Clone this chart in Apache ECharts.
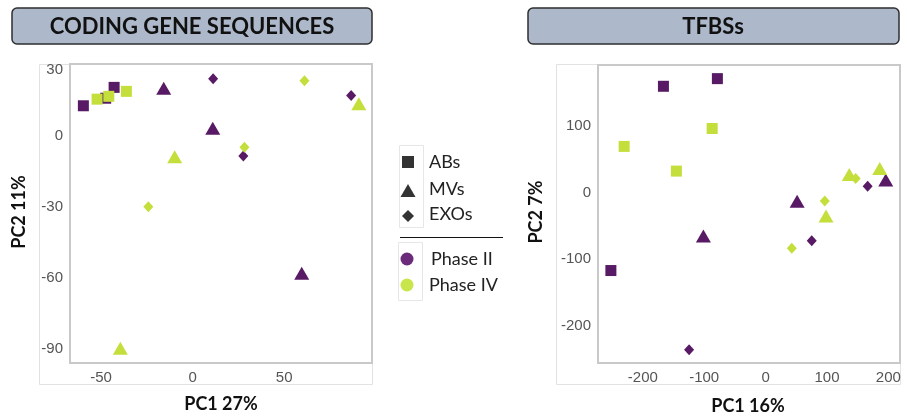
<!DOCTYPE html>
<html>
<head>
<meta charset="utf-8">
<script src="https://cdn.jsdelivr.net/npm/echarts@6/dist/echarts.min.js"></script>
<style>
  html, body { margin: 0; padding: 0; background: #fff; }
  #chart { width: 907px; height: 417px; }
</style>
</head>
<body>
<div id="chart"></div>
<script>
// PCA scores, coding gene sequences panel: [PC1, PC2]
const codingABsPhaseII  = [[-59.7, 12.8], [-47.5, 16.0], [-42.9, 20.6]];
const codingABsPhaseIV  = [[-52.2, 15.6], [-45.8, 16.8], [-36.2, 18.9]];
const codingMVsPhaseII  = [[-15.8, 20.2], [11.0, 3.3], [59.6, -58.2]];
const codingMVsPhaseIV  = [[-9.8, -8.8], [90.8, 13.7], [-39.5, -90.0]];
const codingEXOsPhaseII = [[11.2, 24.3], [86.6, 17.2], [27.7, -8.5]];
const codingEXOsPhaseIV = [[61.1, 23.4], [28.3, -4.8], [-24.2, -30.0]];

// PCA scores, TFBS panel: [PC1, PC2]
const tfbsABsPhaseII  = [[-166.4, 160.0], [-78.5, 171.5], [-252.0, -117.0]];
const tfbsABsPhaseIV  = [[-87.0, 96.5], [-230.4, 69.6], [-145.3, 32.5]];
const tfbsMVsPhaseII  = [[51.4, -13.0], [195.8, 19.0], [-101.3, -65.0]];
const tfbsMVsPhaseIV  = [[98.5, -35.0], [136.4, 27.5], [186.0, 36.5]];
const tfbsEXOsPhaseII = [[166.3, 9.6], [75.2, -72.4], [-124.6, -236.0]];
const tfbsEXOsPhaseIV = [[96.4, -12.5], [146.8, 21.5], [42.7, -83.5]];

// Tick labels
const codingXTicks = [-50, 0, 50];
const codingYTicks = [-90, -60, -30, 0, 30];
const tfbsXTicks = [-200, -100, 0, 100, 200];
const tfbsYTicks = [-200, -100, 0, 100];

const panelTitles = ['CODING GENE SEQUENCES', 'TFBSs'];
const axisTitles = { codingX: 'PC1 27%', codingY: 'PC2 11%', tfbsX: 'PC1 16%', tfbsY: 'PC2 7%' };
const typeLabels = ['ABs', 'MVs', 'EXOs'];
const phaseLabels = ['Phase II', 'Phase IV'];

const PURPLE = '#581a64';
const LIME = '#c4df3c';
const SHAPES = {
  ABs: { symbol: 'rect', size: 11 },
  MVs: { symbol: 'triangle', size: [15, 13] },
  EXOs: { symbol: 'diamond', size: [10, 11] }
};

const chart = echarts.init(document.getElementById('chart'), null, { renderer: 'canvas' });

// topValue: a tick sitting right at the frame edge gets nudged down so it stays inside
function valueAxis(idx, min, max, ticks, topValue) {
  return {
    type: 'value',
    gridIndex: idx,
    min: min,
    max: max,
    axisLine: { show: false },
    axisTick: { show: false },
    splitLine: { show: false },
    axisLabel: {
      customValues: ticks,
      color: '#555',
      fontFamily: 'Liberation Sans, Arial, sans-serif',
      fontSize: 15,
      margin: 7,
      formatter: function (v) {
        return (topValue !== undefined && v === topValue) ? '{edge|' + v + '}' : String(v);
      },
      rich: {
        edge: { color: '#555', fontFamily: 'Liberation Sans, Arial, sans-serif', fontSize: 15, padding: [9, 0, 0, 0] }
      }
    }
  };
}

function scatter(name, data, kind, color, idx) {
  return {
    type: 'scatter',
    name: name,
    xAxisIndex: idx,
    yAxisIndex: idx,
    data: data,
    symbol: SHAPES[kind].symbol,
    symbolSize: SHAPES[kind].size,
    itemStyle: { color: color, opacity: 1 },
    emphasis: { disabled: true },
    z: 3
  };
}

const legendColor = '#222';

const graphics = [
  // outer panel frames
  { type: 'rect', shape: { x: 39.5, y: 64.5, width: 333, height: 320 },
    style: { fill: 'none', stroke: '#e2e2e2', lineWidth: 1 }, z: 0 },
  { type: 'rect', shape: { x: 556.5, y: 64.5, width: 344, height: 320 },
    style: { fill: 'none', stroke: '#e2e2e2', lineWidth: 1 }, z: 0 },
  // title boxes
  { type: 'rect', shape: { x: 12, y: 8, width: 360, height: 36, r: 5 },
    style: { fill: '#adb9ca', stroke: '#2e2e2e', lineWidth: 1.5 } },
  { type: 'text', x: 192, y: 27,
    style: { text: panelTitles[0], font: 'bold 22px Lato, "Open Sans", sans-serif', fill: '#111', align: 'center', verticalAlign: 'middle' } },
  { type: 'rect', shape: { x: 528, y: 8, width: 371, height: 36, r: 5 },
    style: { fill: '#adb9ca', stroke: '#2e2e2e', lineWidth: 1.5 } },
  { type: 'text', x: 713, y: 27,
    style: { text: panelTitles[1], font: 'bold 22px Lato, "Open Sans", sans-serif', fill: '#111', align: 'center', verticalAlign: 'middle' } },
  // axis titles
  { type: 'text', x: 221, y: 404,
    style: { text: axisTitles.codingX, font: 'bold 18px Lato, sans-serif', fill: '#111', align: 'center', verticalAlign: 'middle' } },
  { type: 'text', x: 19, y: 212, rotation: Math.PI / 2,
    style: { text: axisTitles.codingY, font: 'bold 18px Lato, sans-serif', fill: '#111', align: 'center', verticalAlign: 'middle' } },
  { type: 'text', x: 748, y: 406,
    style: { text: axisTitles.tfbsX, font: 'bold 18px Lato, sans-serif', fill: '#111', align: 'center', verticalAlign: 'middle' } },
  { type: 'text', x: 536, y: 212, rotation: Math.PI / 2,
    style: { text: axisTitles.tfbsY, font: 'bold 18px Lato, sans-serif', fill: '#111', align: 'center', verticalAlign: 'middle' } },
  // legend: particle type
  { type: 'rect', shape: { x: 399.5, y: 145.5, width: 24, height: 82 },
    style: { fill: 'none', stroke: '#e6e6e6', lineWidth: 1 } },
  { type: 'rect', shape: { x: 402, y: 156, width: 12, height: 12 }, style: { fill: '#333' } },
  { type: 'polygon', shape: { points: [[408, 184], [400.5, 197], [415.5, 197]] }, style: { fill: '#333' } },
  { type: 'polygon', shape: { points: [[408, 210], [414, 216], [408, 222], [402, 216]] }, style: { fill: '#333' } },
  { type: 'text', x: 429, y: 162, style: { text: typeLabels[0], font: '18px Lato, sans-serif', fill: legendColor, verticalAlign: 'middle' } },
  { type: 'text', x: 429, y: 189, style: { text: typeLabels[1], font: '18px Lato, sans-serif', fill: legendColor, verticalAlign: 'middle' } },
  { type: 'text', x: 429, y: 214, style: { text: typeLabels[2], font: '18px Lato, sans-serif', fill: legendColor, verticalAlign: 'middle' } },
  { type: 'line', shape: { x1: 400, y1: 237.5, x2: 503, y2: 237.5 }, style: { stroke: '#111', lineWidth: 1.2 } },
  // legend: phase
  { type: 'rect', shape: { x: 398.5, y: 242.5, width: 24, height: 58 },
    style: { fill: 'none', stroke: '#e6e6e6', lineWidth: 1 } },
  { type: 'circle', shape: { cx: 407, cy: 259, r: 6.5 }, style: { fill: '#6b2b7a' } },
  { type: 'circle', shape: { cx: 407, cy: 285, r: 6.5 }, style: { fill: '#c9e54c' } },
  { type: 'text', x: 431, y: 259, style: { text: phaseLabels[0], font: '18px Lato, sans-serif', fill: legendColor, verticalAlign: 'middle' } },
  { type: 'text', x: 429, y: 285, style: { text: phaseLabels[1], font: '18px Lato, sans-serif', fill: legendColor, verticalAlign: 'middle' } }
];

const option = {
  backgroundColor: '#fff',
  animation: false,
  grid: [
    { left: 70, top: 64, width: 302, height: 299, show: true, borderColor: '#c9c9c9', borderWidth: 2, backgroundColor: '#fff', z: 1 },
    { left: 598, top: 65, width: 302, height: 298, show: true, borderColor: '#c9c9c9', borderWidth: 2, backgroundColor: '#fff', z: 1 }
  ],
  xAxis: [
    valueAxis(0, -67, 98, codingXTicks),
    valueAxis(1, -273, 219, tfbsXTicks)
  ],
  yAxis: [
    valueAxis(0, -96.2, 30.5, codingYTicks, 30),
    valueAxis(1, -256, 192, tfbsYTicks)
  ],
  series: [
    scatter('ABs Phase II', codingABsPhaseII, 'ABs', PURPLE, 0),
    scatter('ABs Phase IV', codingABsPhaseIV, 'ABs', LIME, 0),
    scatter('MVs Phase II', codingMVsPhaseII, 'MVs', PURPLE, 0),
    scatter('MVs Phase IV', codingMVsPhaseIV, 'MVs', LIME, 0),
    scatter('EXOs Phase II', codingEXOsPhaseII, 'EXOs', PURPLE, 0),
    scatter('EXOs Phase IV', codingEXOsPhaseIV, 'EXOs', LIME, 0),
    scatter('ABs Phase II', tfbsABsPhaseII, 'ABs', PURPLE, 1),
    scatter('ABs Phase IV', tfbsABsPhaseIV, 'ABs', LIME, 1),
    scatter('MVs Phase II', tfbsMVsPhaseII, 'MVs', PURPLE, 1),
    scatter('MVs Phase IV', tfbsMVsPhaseIV, 'MVs', LIME, 1),
    scatter('EXOs Phase II', tfbsEXOsPhaseII, 'EXOs', PURPLE, 1),
    scatter('EXOs Phase IV', tfbsEXOsPhaseIV, 'EXOs', LIME, 1)
  ],
  graphic: { elements: graphics }
};

chart.setOption(option);
</script>
</body>
</html>
